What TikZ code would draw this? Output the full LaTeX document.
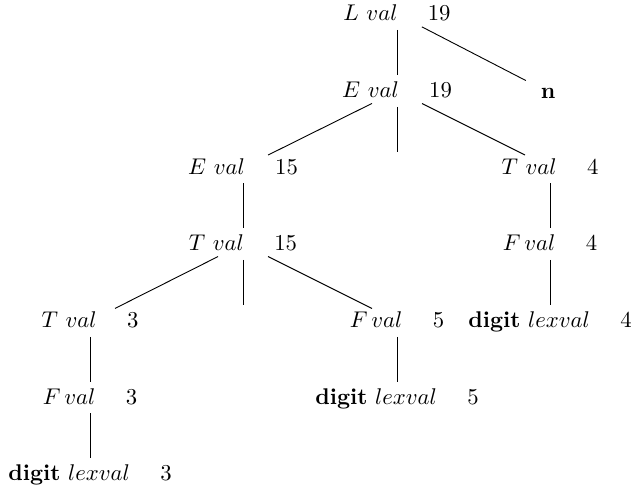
\documentclass[tikz,border=0pt]{standalone}
\begin{document}
\begin{tikzpicture}[x=0.44pt,y=-0.44pt,
  tn/.style={inner sep=0pt, text height=7pt, text depth=1pt},
  slant/.style={shorten <=12.3pt, shorten >=12.3pt},
  vert/.style={shorten <=7pt, shorten >=7pt}]
\useasboundingbox (0,0) rectangle (632,492);
% rows: 14, 91, 167.5, 244, 321, 397.5, 474
\node[tn] (L)   at (397,14)    {$L\ val$ \quad 19};
\node[tn] (E1)  at (397,91)    {$E\ val$ \quad 19};
\node[tn] (n)   at (548,92)    {\textbf{n}};
\node[tn] (E2)  at (243,167.5) {$E\ val$ \quad 15};
\coordinate (b1) at (397,167.5);
\node[tn] (T4)  at (550,167.5) {$T\ val$ \quad 4};
\node[tn] (T15) at (243,244)   {$T\ val$ \quad 15};
\node[tn] (F4)  at (550,244)   {$F\,val$ \quad 4};
\node[tn] (T3)  at (90,321)    {$T\ val$ \quad 3};
\coordinate (b2) at (243,321);
\node[tn] (F5)  at (397,321)   {$F\,val$ \quad 5};
\node[tn] (D4)  at (550,321)   {\textbf{digit} $lexval$ \quad 4};
\node[tn] (F3)  at (90,397.5)  {$F\,val$ \quad 3};
\node[tn] (D5)  at (397,397.5) {\textbf{digit} $lexval$ \quad 5};
\node[tn] (D3)  at (90,474)    {\textbf{digit} $lexval$ \quad 3};
% edges
\draw[vert] (L.center) -- (E1.center);
\draw[shorten <=12.3pt, shorten >=11pt] (L.center) -- (n.center);
\draw[slant] (E1.center) -- (E2.center);
\draw[vert] (E1.center) -- (b1);
\draw[slant] (E1.center) -- (T4.center);
\draw[vert] (E2.center) -- (T15.center);
\draw[vert] (T4.center) -- (F4.center);
\draw[slant] (T15.center) -- (T3.center);
\draw[vert] (T15.center) -- (b2);
\draw[slant] (T15.center) -- (F5.center);
\draw[vert] (F4.center) -- (D4.center);
\draw[vert] (T3.center) -- (F3.center);
\draw[vert] (F5.center) -- (D5.center);
\draw[vert] (F3.center) -- (D3.center);
\end{tikzpicture}
\end{document}
